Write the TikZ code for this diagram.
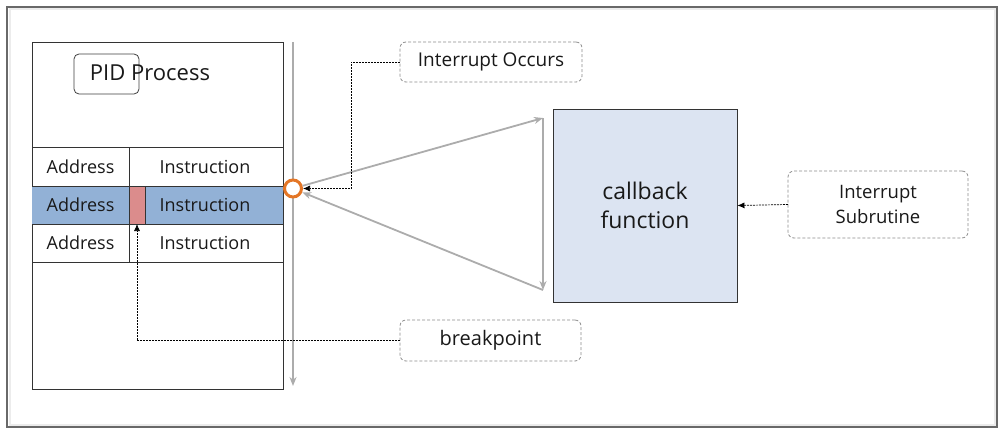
\documentclass[tikz,border=0pt]{standalone}
\usepackage{fontspec}
\setmainfont{Open Sans}
\usetikzlibrary{arrows.meta,calc}
\definecolor{rowblue}{RGB}{146,177,214}
\definecolor{bpred}{RGB}{219,140,140}
\definecolor{cbfill}{RGB}{220,228,242}
\definecolor{flowgray}{RGB}{172,172,172}
\definecolor{ringorange}{RGB}{228,118,38}
\definecolor{dashgray}{RGB}{140,140,140}
\definecolor{framegray}{RGB}{105,105,105}
\definecolor{shadowgray}{RGB}{236,236,236}
\definecolor{txt}{RGB}{25,25,25}
\begin{document}
\begin{tikzpicture}[x=1pt,y=-1pt,
  cell/.style={draw=black!80,line width=0.8pt,inner sep=0pt,outer sep=0pt,text=txt,font=\fontsize{18}{20}\selectfont},
  labelbox/.style={draw=dashgray,dash pattern=on 3pt off 2pt,line width=0.8pt,rounded corners=6pt,inner sep=0pt,outer sep=0pt,text=txt,font=\fontsize{19}{22}\selectfont,align=center,fill=white},
  flow/.style={draw=flowgray,line width=1.8pt,-{Stealth[length=9pt,width=7pt]}},
  pointer/.style={draw=black,line width=0.7pt,dash pattern=on 2pt off 1pt,-{Latex[length=7pt,width=6pt]}}
]
\useasboundingbox (0,0) rectangle (1003,428);
\draw[shadowgray,line width=2pt] (9.5,9.5) rectangle (994.5,424.5);
\draw[framegray,line width=1.5pt] (7,7) rectangle (997,427);

% process box
\node[cell,minimum width=251pt,minimum height=347pt,fill=white] (proc) at (157.5,215.5) {};
\node[cell,draw=none,fill=rowblue,minimum width=251pt,minimum height=38pt] (bluerow) at (157.5,205) {};
\draw[black!80,line width=0.8pt] (32,147) -- (283,147) (32,186) -- (283,186) (32,224) -- (283,224) (32,262) -- (283,262);
\node[cell,draw=none,minimum width=97pt,minimum height=39pt] (a1) at (80.5,166.5) {Address};
\node[cell,draw=none,minimum width=97pt,minimum height=38pt] (a2) at (80.5,205) {Address};
\node[cell,draw=none,minimum width=97pt,minimum height=38pt] (a3) at (80.5,243) {Address};
\node[cell,draw=none,minimum width=154pt,minimum height=39pt] (i1) at (205,166.5) {Instruction};
\node[cell,draw=none,minimum width=138pt,minimum height=38pt] (i2) at (205,205) {Instruction};
\node[cell,draw=none,minimum width=154pt,minimum height=38pt] (i3) at (205,243) {Instruction};
\draw[black!80,line width=0.8pt] (129,147) -- (129,262);
\node[cell,fill=bpred,minimum width=16pt,minimum height=38pt] (bp) at (137,205) {};

% PID process
\node[draw=black!75,line width=0.8pt,rounded corners=5pt,minimum width=65pt,minimum height=40pt,inner sep=0pt] (pid) at (106.5,74) {};
\node[text=txt,font=\fontsize{22}{24}\selectfont,inner sep=0pt] (pidtext) at (150,73) {PID Process};

% timeline
\coordinate (tltop) at (293,42);
\coordinate (tlbot) at (293,386);
\draw[flow,line width=1.5pt] (tltop) -- (tlbot);

% ring
\node[circle,draw=ringorange,line width=3pt,fill=white,minimum size=17pt,inner sep=0pt] (ring) at (293,188.5) {};

% callback
\node[draw=black!80,line width=0.9pt,fill=cbfill,minimum width=184pt,minimum height=193pt,inner sep=0pt,align=center,text=txt,font=\fontsize{23}{29}\selectfont] (cb) at (645,205.5) {callback\\function};

\coordinate (cbtop) at (543,118);
\coordinate (cbbot) at (543,290);
\draw[flow] (ring) -- (cbtop);
\draw[flow] (cbtop) -- (cbbot);
\draw[flow] (cbbot) -- (ring);

% labels
\node[labelbox,minimum width=182pt,minimum height=40pt] (io) at (491,62) {Interrupt Occurs};
\node[labelbox,minimum width=180pt,minimum height=67pt,font=\fontsize{18.5}{25}\selectfont] (isr) at (878,204.5) {Interrupt\\Subrutine};
\node[labelbox,minimum width=181pt,minimum height=41pt,font=\fontsize{20}{22}\selectfont] (brk) at (490.5,340.5) {breakpoint};

\coordinate (iobend) at (351,62);
\draw[pointer] (io.west) -- (iobend) |- (ring.east);
\draw[pointer] (isr.west) -- (cb.east);
\draw[pointer] (brk.west) -| (bp.south);
\end{tikzpicture}
\end{document}
